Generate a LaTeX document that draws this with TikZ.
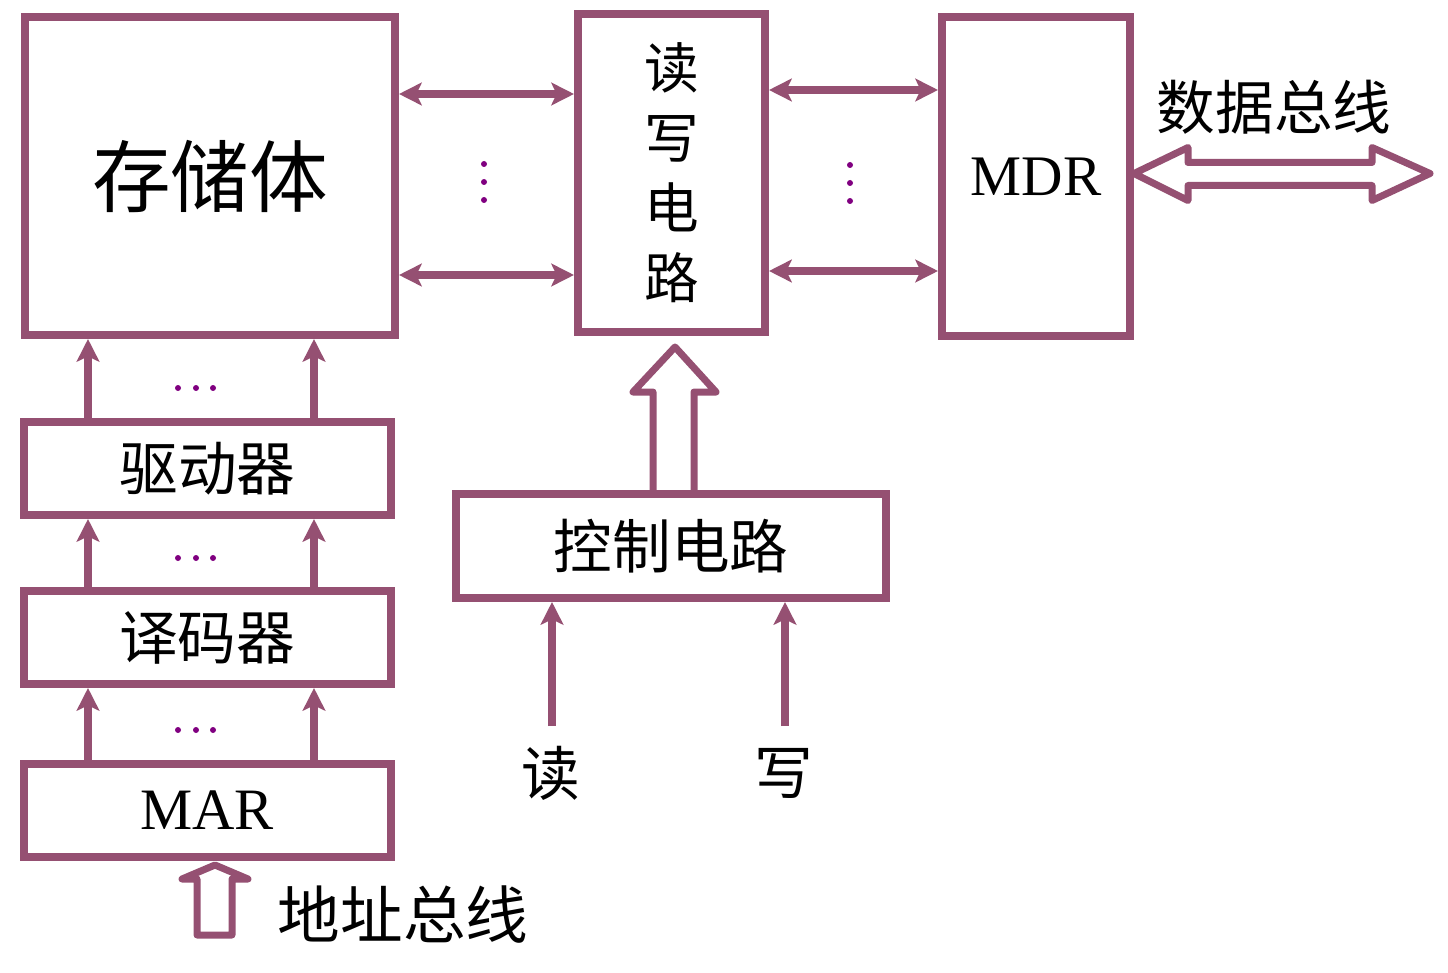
\documentclass[tikz,border=0pt]{standalone}
\usepackage{fontspec}
\setmainfont{Liberation Serif}
\newfontfamily\cjk{Noto Sans CJK SC}
\usetikzlibrary{arrows.meta,calc}
\definecolor{linkred}{HTML}{955072}
\definecolor{dotpurple}{HTML}{800080}

\begin{document}
\begin{tikzpicture}[
    x=0.75pt, y=-0.75pt,
    box/.style args={#1x#2}{draw=linkred, line width=6pt, inner sep=0pt, outer sep=3pt,
        minimum width=#1*0.75pt, minimum height=#2*0.75pt},
    cjkfont/.style={font=\cjk\fontsize{#1}{#1}\selectfont},
    arrow/.style={draw=linkred, line width=6pt, >={Stealth[length=17pt, width=17pt, inset=4pt]}},
    hollow/.style={draw=linkred, line width=5.25pt, line join=round, line cap=round},
    dot/.style={fill=dotpurple}
]
\useasboundingbox (0,0) rectangle (1448,973);

\node[box={370x318}, cjkfont=59] (store) at (210,176) {存储体};
\node[box={187x318}, cjkfont=41, align=center, font=\cjk\fontsize{41}{52.5}\selectfont] (rw) at (671.5,173) {读\\写\\电\\路};
\node[box={188x319}, font=\fontsize{43}{43}\selectfont] (mdr) at (1036,176.5) {MDR};
\node[box={367x93}, cjkfont=44] (drv) at (207.5,468.5) {驱动器};
\node[box={367x93}, cjkfont=44] (dec) at (207,637.5) {译码器};
\node[box={367x93}, font=\fontsize{44}{44}\selectfont] (mar) at (207,810.5) {MAR};
\node[box={430x104}, cjkfont=44] (ctrl) at (671,546) {控制电路};

\node[cjkfont=44] (databus) at (1274,107) {数据总线};
\node[cjkfont=47] (addrbus) at (403,915) {地址总线};
\node[cjkfont=44] (rdlbl) at (551,773) {读};
\node[cjkfont=44] (wrlbl) at (784,773) {写};
\coordinate (rdin) at (552,726);
\coordinate (wrin) at (785,726);

\foreach \yy in {94,275}
    \draw[arrow,<->] (store.east |- 0,\yy) -- (rw.west |- 0,\yy);
\foreach \yy in {90,271}
    \draw[arrow,<->] (rw.east |- 0,\yy) -- (mdr.west |- 0,\yy);
\foreach \xx in {88,314} {
    \draw[arrow,->] (drv.north -| \xx,0) -- (store.south -| \xx,0);
    \draw[arrow,->] (dec.north -| \xx,0) -- (drv.south -| \xx,0);
    \draw[arrow,->] (mar.north -| \xx,0) -- (dec.south -| \xx,0);
}
\draw[arrow,->] (rdin) -- (rdin |- ctrl.south);
\draw[arrow,->] (wrin) -- (wrin |- ctrl.south);

\draw[hollow] ($(ctrl.north)+(-18,0)$) -- ++(0,-98) -- ++(-20,0) -- ++(42,-45) -- ++(41,45) -- ++(-22,0) -- ++(0,98);
\draw[hollow] ($(mar.south)+(8,4)$) -- ++(33,14) -- ++(-16,0) -- ++(0,56) -- ++(-35,0) -- ++(0,-56) -- ++(-15,0) -- cycle;
\draw[hollow] ($(mdr.east)+(0,-3)$) -- ++(54,-26) -- ++(0,15) -- ++(184,0) -- ++(0,-15) -- ++(58,26)
    -- ++(-58,27) -- ++(0,-15) -- ++(-184,0) -- ++(0,15) -- cycle;

\foreach \yy in {164,182,200} {
    \fill[dot] (484,\yy) circle (3);
    \fill[dot] (850,\yy+1) circle (3);
}
\foreach \xx in {178,196,213} {
    \fill[dot] (\xx,388) circle (3);
    \fill[dot] (\xx,558) circle (3);
    \fill[dot] (\xx,730) circle (3);
}
\end{tikzpicture}
\end{document}
